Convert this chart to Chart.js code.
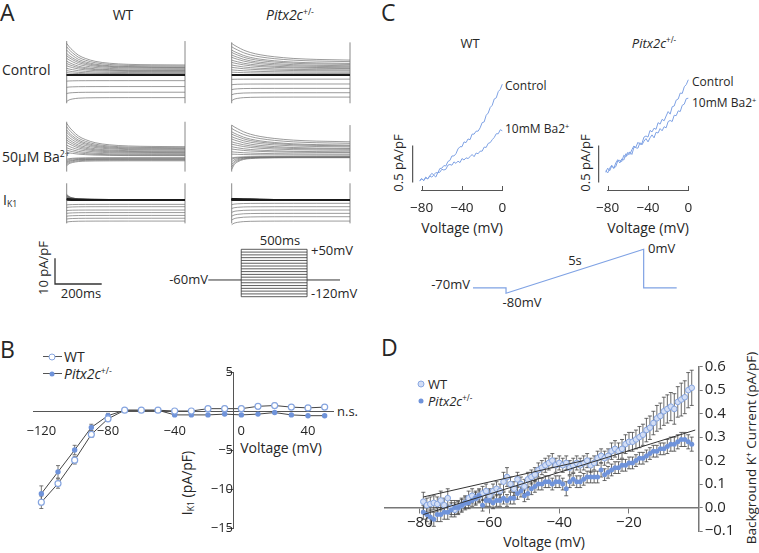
<!DOCTYPE html>
<html>
<head>
<meta charset="utf-8">
<script src="https://cdn.jsdelivr.net/npm/chart.js@4.4.1/dist/chart.umd.min.js"></script>
<style>
  body { margin: 0; background: #fff; }
  #fig { position: relative; width: 759px; height: 553px; overflow: hidden; font-family: "Open Sans", sans-serif; color: #262626; }
  #fig canvas { position: absolute; }
  .t { position: absolute; white-space: nowrap; line-height: 1; transform: translateY(-50%); }
  .c { transform: translate(-50%, -50%); }
  .r { transform: translate(-100%, -50%); }
  .rot { transform: translate(-50%, -50%) rotate(-90deg); }
  .panel { font-size: 23px; }
  sup { font-size: 62%; line-height: 0; vertical-align: 0.55em; }
  sub { font-size: 62%; line-height: 0; vertical-align: -0.25em; }
  .dot { position: absolute; border-radius: 50%; transform: translate(-50%, -50%); }
  .ln { position: absolute; height: 1px; background: #555; }
</style>
</head>
<body>
<div id="fig">
  <!-- panel A -->
  <div class="t panel" style="left:0px;top:12px">A</div>
  <div class="t c" style="left:123px;top:15px;font-size:14px">WT</div>
  <div class="t c" style="left:290px;top:15px;font-size:14px"><i>Pitx2c</i><sup>+/-</sup></div>
  <div class="t" style="left:2px;top:70px;font-size:14px">Control</div>
  <div class="t" style="left:2px;top:157px;font-size:14px">50μM Ba<sup>2+</sup></div>
  <div class="t" style="left:3px;top:200px;font-size:14px">I<sub>K1</sub></div>
  <div class="t rot" style="left:43px;top:268px;font-size:13px">10 pA/pF</div>
  <div class="t c" style="left:81px;top:293px;font-size:13px">200ms</div>
  <div class="t c" style="left:280px;top:240px;font-size:13px">500ms</div>
  <div class="t" style="left:311px;top:250px;font-size:13px">+50mV</div>
  <div class="t r" style="left:208px;top:279px;font-size:13px">-60mV</div>
  <div class="t" style="left:311px;top:293px;font-size:13px">-120mV</div>

  <!-- panel B -->
  <div class="t panel" style="left:0px;top:349px">B</div>
  <div class="ln" style="left:43px;top:356px;width:19px"></div>
  <div class="dot" style="left:52px;top:356.5px;width:5px;height:5px;border:1px solid #86a5e0;background:#fff"></div>
  <div class="t" style="left:64px;top:357px;font-size:14px">WT</div>
  <div class="ln" style="left:43px;top:373px;width:19px"></div>
  <div class="dot" style="left:52px;top:373.5px;width:5px;height:5px;background:#6f93da"></div>
  <div class="t" style="left:64px;top:374px;font-size:14px"><i>Pitx2c</i><sup>+/-</sup></div>
  <div class="t" style="left:337px;top:411px;font-size:13px">n.s.</div>
  <div class="t c" style="left:281px;top:448px;font-size:14px">Voltage (mV)</div>
  <div class="t rot" style="left:187px;top:483px;font-size:14px">I<sub>K1</sub> (pA/pF)</div>

  <!-- panel C -->
  <div class="t panel" style="left:381px;top:12px">C</div>
  <div class="t c" style="left:470px;top:43px;font-size:13px">WT</div>
  <div class="t c" style="left:654px;top:43px;font-size:13px"><i>Pitx2c</i><sup>+/-</sup></div>
  <div class="t" style="left:505px;top:86px;font-size:12px">Control</div>
  <div class="t" style="left:505px;top:129px;font-size:12px">10mM Ba2<sup>+</sup></div>
  <div class="t" style="left:692px;top:82px;font-size:12px">Control</div>
  <div class="t" style="left:692px;top:103px;font-size:12px">10mM Ba2<sup>+</sup></div>
  <div class="t rot" style="left:398px;top:163px;font-size:13px">0.5 pA/pF</div>
  <div class="t rot" style="left:585px;top:163px;font-size:13px">0.5 pA/pF</div>
  <div class="t c" style="left:462px;top:228px;font-size:14px">Voltage (mV)</div>
  <div class="t c" style="left:648px;top:228px;font-size:14px">Voltage (mV)</div>
  <div class="t r" style="left:470px;top:284px;font-size:13px">-70mV</div>
  <div class="t c" style="left:522px;top:302px;font-size:13px">-80mV</div>
  <div class="t c" style="left:575px;top:260px;font-size:13px">5s</div>
  <div class="t" style="left:648px;top:248px;font-size:13px">0mV</div>

  <!-- panel D -->
  <div class="t panel" style="left:381px;top:347px">D</div>
  <div class="dot" style="left:421px;top:384px;width:5px;height:5px;border:1px solid #8aa8e2;background:#d3def5"></div>
  <div class="t" style="left:428px;top:384px;font-size:13px">WT</div>
  <div class="dot" style="left:421px;top:401px;width:5px;height:5px;background:#6f93da"></div>
  <div class="t" style="left:428px;top:401px;font-size:13px"><i>Pitx2c</i><sup>+/-</sup></div>
  <div class="t c" style="left:544px;top:542px;font-size:14px">Voltage (mV)</div>
  <div class="t rot" style="left:752px;top:448px;font-size:13.5px">Background K<sup>+</sup> Current (pA/pF)</div>
</div>

<script>
// ---------- Panel A: current traces (pA/pF) at the start and end of each step ----------
const stepMv = [-120, -110, -100, -90, -80, -70, -60, -50, -40, -30, -20, -10, 0, 10, 20, 30, 40, 50];
const traceTimeMs = [0, 10, 25, 50, 80, 120, 180, 260, 360, 500];
const decayWt   = [1, 0.85, 0.68, 0.45, 0.3, 0.17, 0.08, 0.03, 0.01, 0];
const decayPitx = [1, 0.9, 0.78, 0.6, 0.45, 0.32, 0.2, 0.1, 0.04, 0];
const decayFast = [1, 0.6, 0.35, 0.15, 0.07, 0.03, 0.01, 0, 0, 0];

const wtCtrlStart = [-10.3, -7.2, -4.8, -2.4, 0, 0, 0.9, 1.7, 2.6, 3.6, 4.5, 5.4, 6.5, 7.5, 8.4, 9.7, 11.0, 12.3];
const wtCtrlEnd   = [-8.8, -6.7, -4.5, -2.2, 0, 0, 0.3, 0.5, 0.9, 1.3, 1.6, 1.8, 2.2, 2.6, 2.9, 3.1, 3.5, 3.9];
const pxCtrlStart = [-10.0, -7.7, -5.7, -3.8, -1.7, 0, 1.1, 2.0, 3.0, 3.9, 4.9, 5.8, 6.9, 7.8, 8.8, 9.7, 11.0, 12.3];
const pxCtrlEnd   = [-8.6, -6.9, -5.2, -3.5, -1.6, 0, 0.6, 1.1, 1.6, 2.0, 2.5, 2.8, 3.2, 3.6, 4.1, 4.5, 5.2, 5.8];
const wtBaStart = [-3.5, -3.0, -2.5, -2.0, -1.5, -1.0, 1.7, 2.6, 3.5, 4.5, 5.6, 6.5, 7.4, 8.4, 9.5, 10.4, 11.7, 13.0];
const wtBaEnd   = [-1.6, -1.3, -1.0, -0.9, -0.6, -0.4, 0.4, 0.6, 0.9, 1.3, 1.6, 1.9, 2.2, 2.6, 2.9, 3.2, 3.5, 3.9];
const pxBaStart = [-5.0, -4.0, -3.0, -2.0, -1.0, -0.5, 1.0, 1.9, 3.0, 3.9, 4.9, 5.8, 6.9, 7.8, 8.8, 9.7, 11.0, 12.3];
const pxBaEnd   = [-0.4, -0.3, -0.2, -0.1, -0.1, 0, 0.6, 1.0, 1.6, 1.9, 2.5, 2.9, 3.2, 3.8, 4.2, 4.5, 5.2, 5.8];
const wtIk1Start = [-8.6, -7.4, -6.3, -5.2, -4.1, -2.9, -1.9, 0.2, 0.4, 0.6, 0.8, 1.0, 1.2, 1.4, 1.6, 1.8, 2.0, 2.2];
const wtIk1End   = [-8.2, -7.1, -6.0, -4.9, -3.9, -2.6, -1.7, 0, 0, 0, 0, 0, 0.1, 0.1, 0.1, 0.1, 0.1, 0.1];
const pxIk1Start = [-9.6, -7.8, -6.3, -4.8, -3.3, -1.8, 0, 0.1, 0.2, 0.3, 0.3, 0.4, 0.4, 0.5, 0.5, 0.6, 0.6, 0.7];
const pxIk1End   = [-8.2, -6.5, -5.2, -3.9, -2.6, -1.3, 0, 0, 0, 0, 0, 0, 0, 0.1, 0.1, 0.1, 0.1, 0.1];
// capacitive spikes at step on/off [min, max]
const wtCtrlSpike = [-11.0, 13.2], pxCtrlSpike = [-11.0, 12.7];
const wtBaSpike = [-5.8, 13.6], pxBaSpike = [-5.8, 12.3];
const ik1Spike = [-9.1, 6.5];

const scaleBarMs = [0, 0, 200];
const scaleBarPa = [10, 0, 0];
const protoTimeMs = [0, 250, 750, 1000];
const holdMv = -60;

// ---------- Panel B: I-V of IK1 ----------
const bVoltage = [-120, -110, -100, -90, -80, -70, -60, -50, -40, -30, -20, -10, 0, 10, 20, 30, 40, 50];
const bWt      = [-11.7, -9.3, -6.3, -3.0, -1.0, 0.1, 0.1, 0.1, 0.0, 0.0, 0.3, 0.3, 0.3, 0.6, 0.7, 0.5, 0.4, 0.5];
const bWtSem   = [0.8, 0.6, 0.5, 0.4, 0.3, 0.1, 0.1, 0.1, 0.2, 0.2, 0.2, 0.3, 0.3, 0.3, 0.3, 0.3, 0.3, 0.3];
const bPitx    = [-10.6, -7.8, -5.0, -2.1, -0.6, 0.1, 0.1, 0.1, -0.5, -0.5, -0.5, -0.4, -0.5, -0.4, -0.2, -0.5, -0.6, -0.6];
const bPitxSem = [1.0, 0.8, 0.6, 0.4, 0.3, 0.1, 0.1, 0.1, 0.1, 0.1, 0.1, 0.1, 0.1, 0.1, 0.1, 0.1, 0.1, 0.1];
const bXTicks = [-120, -80, -40, 0, 40];
const bYTicks = [5, -5, -10, -15];

// ---------- Panel C: ramp currents ----------
const cMv = [-82, -80, -78, -76, -74, -72, -70, -68, -66, -64, -62, -60, -58, -56, -54, -52, -50, -48, -46, -44, -42,
             -40, -38, -36, -34, -32, -30, -28, -26, -24, -22, -20, -18, -16, -14, -12, -10, -8, -6, -4, -2, 0];
const cWtCtrl = [0.12, 0.15, 0.13, 0.175, 0.15, 0.19, 0.225, 0.205, 0.235, 0.23, 0.29, 0.295, 0.33, 0.325, 0.385, 0.40, 0.46, 0.46, 0.49, 0.555, 0.585,
                 0.585, 0.65, 0.64, 0.69, 0.68, 0.755, 0.755, 0.795, 0.795, 0.84, 0.91, 0.92, 1.01, 1.04, 1.115, 1.145, 1.23, 1.245, 1.33, 1.36, 1.43];
const cWtBa = [0.13, 0.155, 0.125, 0.165, 0.15, 0.19, 0.175, 0.20, 0.175, 0.235, 0.24, 0.28, 0.27, 0.28, 0.335, 0.345, 0.335, 0.38, 0.36, 0.39, 0.37,
               0.425, 0.405, 0.435, 0.425, 0.45, 0.48, 0.45, 0.50, 0.49, 0.525, 0.525, 0.58, 0.575, 0.63, 0.64, 0.68, 0.71, 0.76, 0.76, 0.815, 0.80];
const cPxCtrl = [0.24, 0.295, 0.26, 0.325, 0.29, 0.365, 0.41, 0.365, 0.42, 0.405, 0.49, 0.47, 0.515, 0.48, 0.575, 0.58, 0.645, 0.615, 0.63, 0.715, 0.73,
                 0.715, 0.805, 0.785, 0.835, 0.82, 0.91, 0.89, 0.955, 0.935, 1.00, 1.06, 1.025, 1.125, 1.135, 1.215, 1.23, 1.31, 1.305, 1.395, 1.425, 1.49];
const cPxBa = [0.26, 0.23, 0.295, 0.335, 0.30, 0.315, 0.395, 0.40, 0.385, 0.47, 0.445, 0.51, 0.48, 0.545, 0.595, 0.57, 0.565, 0.64, 0.61, 0.66, 0.695,
               0.65, 0.705, 0.745, 0.705, 0.78, 0.77, 0.83, 0.80, 0.855, 0.84, 0.925, 0.94, 0.925, 1.01, 1.005, 1.07, 1.06, 1.145, 1.16, 1.235, 1.24];
const cXTicks = [-80, -40, 0];
const cScaleBar = [0.1, 0.6];
const rampTimeS = [0, 1.2, 1.2, 6.2, 6.2, 7.4];
const rampMv = [-70, -70, -80, 0, -70, -70];

// ---------- Panel D: background K+ current ----------
const dVoltage = [-79, -78, -77, -76, -75, -74, -73, -72, -71, -70, -69, -68, -67, -66, -65, -64, -63, -62, -61, -60,
                  -59, -58, -57, -56, -55, -54, -53, -52, -51, -50, -49, -48, -47, -46, -45, -44, -43, -42, -41, -40,
                  -39, -38, -37, -36, -35, -34, -33, -32, -31, -30, -29, -28, -27, -26, -25, -24, -23, -22, -21, -20,
                  -19, -18, -17, -16, -15, -14, -13, -12, -11, -10, -9, -8, -7, -6, -5, -4, -3, -2];
const dWt = [0.025, 0.01, 0.015, 0.02, 0.015, 0.03, 0.01, 0.04, 0.0, -0.01, 0.0, 0.01, 0.02, 0.04, 0.05, 0.04, 0.05, 0.06, 0.07, 0.05,
             0.07, 0.08, 0.07, 0.11, 0.13, 0.10, 0.08, 0.12, 0.10, 0.09, 0.12, 0.13, 0.14, 0.16, 0.17, 0.18, 0.19, 0.20, 0.18, 0.19,
             0.18, 0.19, 0.17, 0.18, 0.19, 0.18, 0.19, 0.20, 0.18, 0.19, 0.21, 0.22, 0.21, 0.22, 0.24, 0.25, 0.24, 0.25, 0.27, 0.28,
             0.28, 0.29, 0.30, 0.31, 0.33, 0.34, 0.36, 0.38, 0.39, 0.41, 0.42, 0.43, 0.42, 0.45, 0.46, 0.47, 0.50, 0.51];
const dWtSem = [0.04, 0.03, 0.03, 0.03, 0.03, 0.04, 0.03, 0.04, 0.03, 0.03, 0.03, 0.03, 0.03, 0.03, 0.03, 0.03, 0.03, 0.03, 0.03, 0.03,
                0.03, 0.03, 0.03, 0.04, 0.04, 0.03, 0.03, 0.03, 0.03, 0.03, 0.03, 0.03, 0.03, 0.03, 0.03, 0.03, 0.03, 0.03, 0.03, 0.03,
                0.03, 0.03, 0.03, 0.03, 0.03, 0.03, 0.03, 0.03, 0.03, 0.03, 0.03, 0.03, 0.03, 0.03, 0.035, 0.035, 0.035, 0.04, 0.04, 0.04,
                0.04, 0.04, 0.045, 0.045, 0.05, 0.05, 0.05, 0.055, 0.055, 0.06, 0.06, 0.06, 0.065, 0.065, 0.07, 0.07, 0.075, 0.075];
const dPitx = [-0.02, -0.03, -0.04, -0.05, -0.03, -0.03, -0.02, -0.02, -0.01, 0.0, 0.0, 0.01, 0.02, 0.02, 0.03, 0.04, 0.05, 0.01, 0.03, 0.03,
               0.02, 0.03, 0.03, 0.04, 0.03, 0.04, 0.04, 0.06, 0.07, 0.05, 0.06, 0.08, 0.09, 0.10, 0.10, 0.11, 0.11, 0.10, 0.11, 0.11,
               0.10, 0.08, 0.11, 0.12, 0.11, 0.11, 0.12, 0.13, 0.13, 0.13, 0.13, 0.16, 0.14, 0.15, 0.16, 0.17, 0.17, 0.18, 0.18, 0.19,
               0.19, 0.20, 0.21, 0.21, 0.22, 0.23, 0.24, 0.24, 0.25, 0.25, 0.26, 0.27, 0.27, 0.28, 0.29, 0.29, 0.28, 0.27];
const dPitxSem = [0.03, 0.03, 0.03, 0.03, 0.03, 0.03, 0.03, 0.03, 0.03, 0.03, 0.025, 0.025, 0.025, 0.025, 0.025, 0.025, 0.025, 0.025, 0.025, 0.025,
                  0.025, 0.025, 0.025, 0.025, 0.025, 0.025, 0.025, 0.025, 0.025, 0.025, 0.025, 0.025, 0.025, 0.025, 0.025, 0.025, 0.025, 0.025, 0.025, 0.025,
                  0.025, 0.03, 0.025, 0.025, 0.025, 0.025, 0.025, 0.025, 0.025, 0.025, 0.025, 0.03, 0.025, 0.025, 0.025, 0.025, 0.025, 0.025, 0.025, 0.025,
                  0.025, 0.025, 0.025, 0.025, 0.025, 0.025, 0.025, 0.025, 0.025, 0.025, 0.03, 0.03, 0.03, 0.03, 0.03, 0.03, 0.03, 0.03];
const dWtFitMv = [-79, -33], dWtFit = [0.045, 0.20];
const dPitxFitMv = [-79, -1], dPitxFit = [-0.03, 0.33];
const dXTicks = [-80, -60, -40, -20];
const dYTicks = [0.6, 0.5, 0.4, 0.3, 0.2, 0.1, 0.0, -0.1];

// ---------- helpers ----------
Chart.defaults.font.family = '"Open Sans", sans-serif';
Chart.defaults.color = '#262626';
Chart.defaults.animation = false;
Chart.defaults.plugins.legend.display = false;
Chart.defaults.plugins.tooltip.enabled = false;

const errorBars = {
  id: 'errorBars',
  beforeDatasetsDraw(chart) {
    const ctx = chart.ctx, y = chart.scales.y;
    chart.data.datasets.forEach((ds, i) => {
      if (!ds.errors) return;
      const meta = chart.getDatasetMeta(i);
      ctx.save();
      ctx.strokeStyle = ds.errorColor || '#444';
      ctx.lineWidth = 0.8;
      meta.data.forEach((pt, k) => {
        const v = ds.data[k].y, e = ds.errors[k];
        const top = y.getPixelForValue(v + e), bot = y.getPixelForValue(v - e);
        ctx.beginPath();
        ctx.moveTo(pt.x, top); ctx.lineTo(pt.x, bot);
        ctx.moveTo(pt.x - 2, top); ctx.lineTo(pt.x + 2, top);
        ctx.moveTo(pt.x - 2, bot); ctx.lineTo(pt.x + 2, bot);
        ctx.stroke();
      });
      ctx.restore();
    });
  }
};
const upTicks = {
  id: 'upTicks',
  afterDraw(chart, args, opts) {
    if (!opts.len) return;
    const x = chart.scales.x, ctx = chart.ctx;
    ctx.save();
    ctx.strokeStyle = opts.color;
    ctx.lineWidth = 1;
    x.ticks.forEach(t => {
      const px = Math.round(x.getPixelForValue(t.value)) + 0.5;
      ctx.beginPath(); ctx.moveTo(px, x.top); ctx.lineTo(px, x.top - opts.len); ctx.stroke();
    });
    ctx.restore();
  }
};
Chart.register(errorBars, upTicks);

function place(left, top, w, h) {
  const c = document.createElement('canvas');
  c.width = w; c.height = h;
  c.style.left = left + 'px'; c.style.top = top + 'px';
  document.getElementById('fig').appendChild(c);
  return c;
}
const pts = (xs, ys) => xs.map((x, i) => ({x, y: ys[i]}));
const fixTicks = list => axis => { axis.ticks = list.map(v => ({value: v})); };
const minus = v => (v < 0 ? '\u2212' : '') + Math.abs(v);
const plain = (x0, x1, y0, y1) => ({
  x: {type: 'linear', display: false, min: x0, max: x1},
  y: {type: 'linear', display: false, min: y0, max: y1}
});
const line = (data, color, width) => ({data, showLine: true, borderColor: color, borderWidth: width, pointRadius: 0, fill: false});

// ---------- Panel A ----------
const K = 2.57; // px per pA/pF (10 pA/pF bar = 25.7 px)
const aBoxes = [
  {left: 66.7,  base: 75,    start: wtCtrlStart, end: wtCtrlEnd, decay: decayWt,   spike: wtCtrlSpike},
  {left: 231.7, base: 75,    start: pxCtrlStart, end: pxCtrlEnd, decay: decayPitx, spike: pxCtrlSpike},
  {left: 66.7,  base: 156.7, start: wtBaStart,   end: wtBaEnd,   decay: decayWt,   spike: wtBaSpike},
  {left: 231.7, base: 156.7, start: pxBaStart,   end: pxBaEnd,   decay: decayPitx, spike: pxBaSpike},
  {left: 66.7,  base: 200,   start: wtIk1Start,  end: wtIk1End,  decay: decayFast, spike: ik1Spike},
  {left: 231.7, base: 200,   start: pxIk1Start,  end: pxIk1End,  decay: decayFast, spike: ik1Spike}
];
aBoxes.forEach(b => {
  const yMax = b.spike[1] + 0.5, yMin = b.spike[0] - 0.5;
  const areaTop = b.base - yMax * K, areaH = (yMax - yMin) * K;
  const cl = Math.floor(b.left) - 3, w = 125;
  const ct = Math.floor(areaTop) - 2, h = Math.ceil(areaH) + 5;
  const datasets = b.start.map((s, i) => {
    const e = b.end[i];
    const flat = Math.abs(e) < 0.2 && Math.abs(s) < 0.5;
    const decay = s < 0 ? decayFast : b.decay;
    return {
      data: traceTimeMs.map((t, k) => ({x: t, y: e + (s - e) * decay[k]})),
      showLine: true, pointRadius: 0, cubicInterpolationMode: 'monotone',
      borderColor: flat ? '#1a1a1a' : '#707070', borderWidth: flat ? 2.2 : 0.7
    };
  });
  datasets.push(line(pts([0, 0], b.spike), '#888', 1));
  datasets.push(line(pts([500, 500], b.spike), '#888', 1));
  new Chart(place(cl, ct, w, h), {
    type: 'scatter',
    data: {datasets},
    options: {
      responsive: false, events: [], clip: false,
      layout: {padding: {left: b.left - cl, right: w - (b.left - cl) - 118.3, top: areaTop - ct, bottom: h - (areaTop - ct) - areaH}},
      scales: plain(0, 500, yMin, yMax)
    }
  });
});

// scale bar 10 pA/pF, 200 ms
new Chart(place(50, 253, 57, 36), {
  type: 'scatter',
  data: {datasets: [line(pts(scaleBarMs, scaleBarPa), '#333', 1.3)]},
  options: {responsive: false, events: [], clip: false,
    layout: {padding: {left: 5, right: 5.3, top: 5.3, bottom: 5}}, scales: plain(0, 200, 0, 10)}
});

// step protocol
const protoSets = stepMv.map(v => line(pts([protoTimeMs[1], protoTimeMs[2]], [v, v]), '#333', 0.8));
protoSets.push(line(pts([protoTimeMs[1], protoTimeMs[1]], [stepMv[0], stepMv[stepMv.length - 1]]), '#333', 0.8));
protoSets.push(line(pts([protoTimeMs[2], protoTimeMs[2]], [stepMv[0], stepMv[stepMv.length - 1]]), '#333', 0.8));
protoSets.push(line(pts([protoTimeMs[0], protoTimeMs[1]], [holdMv, holdMv]), '#333', 1));
protoSets.push(line(pts([protoTimeMs[2], protoTimeMs[3]], [holdMv, holdMv]), '#333', 1));
new Chart(place(204, 245, 140, 56), {
  type: 'scatter',
  data: {datasets: protoSets},
  options: {responsive: false, events: [], clip: false,
    layout: {padding: {left: 4.3, right: 4, top: 4.3, bottom: 4.3}}, scales: plain(0, 1000, -120, 50)}
});

// ---------- Panel B ----------
new Chart(place(0, 330, 380, 215), {
  type: 'scatter',
  data: {datasets: [
    {data: pts(bVoltage, bWt), errors: bWtSem, errorColor: '#555', showLine: true, borderColor: '#444', borderWidth: 1,
     pointRadius: 3, pointBorderWidth: 1.2, pointBackgroundColor: '#fff', pointBorderColor: '#86a5e0'},
    {data: pts(bVoltage, bPitx), errors: bPitxSem, errorColor: '#555', showLine: true, borderColor: '#444', borderWidth: 1,
     pointRadius: 2.7, pointBorderWidth: 0, pointBackgroundColor: '#6f93da'}
  ]},
  options: {
    responsive: false, events: [], clip: false,
    layout: {padding: {left: 33, right: 47, top: 42, bottom: 17}},
    scales: {
      x: {type: 'linear', min: -125, max: 55, position: {y: 0}, afterBuildTicks: fixTicks(bXTicks),
          grid: {drawOnChartArea: false, drawTicks: false}, border: {color: '#555'},
          ticks: {padding: 12, font: {size: 13}, callback: minus}},
      y: {type: 'linear', min: -15, max: 5, position: {x: -5}, afterBuildTicks: fixTicks(bYTicks),
          grid: {drawOnChartArea: false, tickLength: 6, color: '#555'}, border: {color: '#555'},
          ticks: {padding: 7, font: {size: 13}, callback: minus}}
    }
  }
});

// ---------- Panel C ----------
function rampChart(left, ctrl, ba) {
  new Chart(place(left, 70, 120, 170), {
    type: 'scatter',
    data: {datasets: [
      line(pts(cMv, ctrl), '#7fa2e4', 1),
      line(pts(cMv, ba), '#7fa2e4', 1),
      line(pts([-89, -89], cScaleBar), '#555', 1.2)
    ]},
    options: {
      responsive: false, events: [], clip: false,
      layout: {padding: {left: 21.7, right: 17.7, top: 9, bottom: 0}},
      plugins: {upTicks: {len: 4, color: '#555'}},
      scales: {
        x: {type: 'linear', min: -80, max: 0, afterBuildTicks: fixTicks(cXTicks),
            afterFit: s => { s.height = 50; },
            grid: {drawOnChartArea: false, drawTicks: false}, border: {color: '#555'},
            ticks: {padding: 10, font: {size: 13.5}, callback: minus}},
        y: {type: 'linear', display: false, min: 0, max: 1.5}
      }
    }
  });
}
rampChart(400, cWtCtrl, cWtBa);
rampChart(586, cPxCtrl, cPxBa);

new Chart(place(468, 244, 214, 54), {
  type: 'scatter',
  data: {datasets: [line(pts(rampTimeS, rampMv), '#7fa2e4', 1.2)]},
  options: {responsive: false, events: [], clip: false,
    layout: {padding: {left: 5, right: 5.3, top: 5.3, bottom: 4.7}}, scales: plain(0, 7.4, -80, 0)}
});

// ---------- Panel D ----------
new Chart(place(380, 340, 379, 213), {
  type: 'scatter',
  data: {datasets: [
    line(pts(dWtFitMv, dWtFit), '#333', 1),
    line(pts(dPitxFitMv, dPitxFit), '#333', 1),
    {data: pts(dVoltage, dPitx), errors: dPitxSem, errorColor: '#444',
     pointRadius: 2.5, pointBorderWidth: 0, pointBackgroundColor: '#6f93da'},
    {data: pts(dVoltage, dWt), errors: dWtSem, errorColor: '#444',
     pointRadius: 2.8, pointBorderWidth: 1, pointBackgroundColor: '#d3def5', pointBorderColor: '#86a5e0'}
  ]},
  options: {
    responsive: false, events: [], clip: false,
    layout: {padding: {left: 3, right: 0, top: 26.7, bottom: 22}},
    scales: {
      x: {type: 'linear', min: -90, max: 0, position: {y: 0}, afterBuildTicks: fixTicks(dXTicks),
          grid: {drawOnChartArea: false, tickLength: 5, color: '#777'}, border: {color: '#777', width: 1.5},
          ticks: {padding: 1, font: {size: 15}, callback: minus}},
      y: {type: 'linear', min: -0.1, max: 0.6, position: 'right', afterBuildTicks: fixTicks(dYTicks),
          afterFit: s => { s.width = 60.3; },
          grid: {drawOnChartArea: false, tickLength: 4, color: '#777'}, border: {color: '#777', width: 1.5},
          ticks: {padding: 2, font: {size: 15}, callback: v => (v < 0 ? '\u2212' : '') + Math.abs(v).toFixed(1)}}
    }
  }
});
</script>
</body>
</html>
